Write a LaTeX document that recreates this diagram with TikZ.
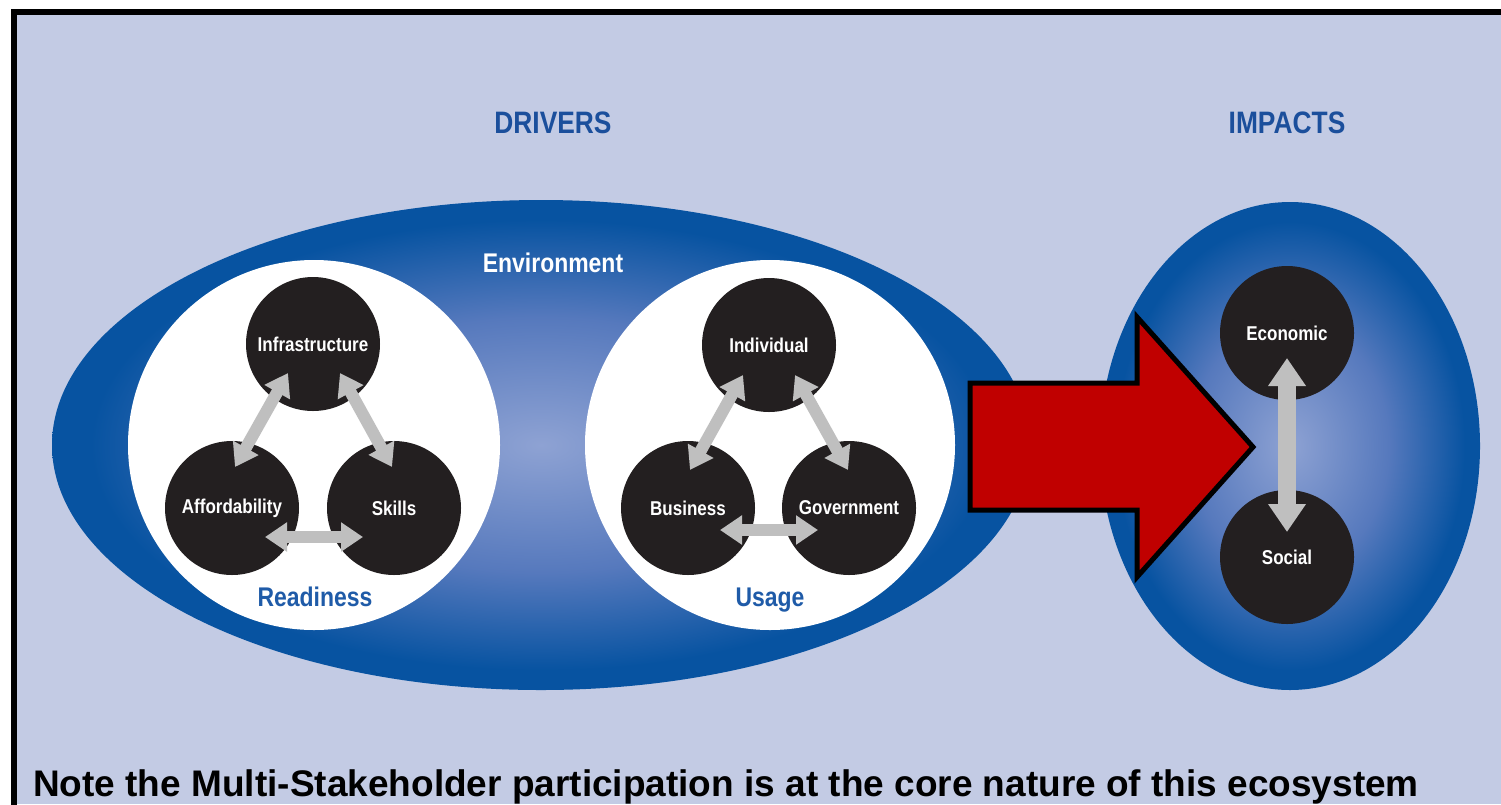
\documentclass[tikz,border=0pt]{standalone}
\usepackage{fontspec}
\usepackage{xcolor}
\usepackage{tikz}
\usetikzlibrary{arrows.meta}
\setmainfont{Liberation Sans}
\newfontfamily\condsf[FakeStretch=0.85]{Liberation Sans}

\definecolor{bgblue}{HTML}{C3CBE4}
\definecolor{envdark}{HTML}{0753A1}
\definecolor{envmid}{HTML}{5679BD}
\definecolor{envlight}{HTML}{8EA2D3}
\definecolor{titleblue}{HTML}{1B4F9C}
\definecolor{labelblue}{HTML}{1F5BA8}
\definecolor{discblack}{HTML}{231F20}
\definecolor{linkgray}{HTML}{BFBFBF}
\definecolor{pushred}{HTML}{C00000}

\pgfdeclareradialshading{ecoshade}{\pgfpoint{0bp}{0bp}}{color(0bp)=(envlight); color(13bp)=(envmid); color(23bp)=(envdark); color(25bp)=(envdark); color(50bp)=(envdark)}

\begin{document}
\begin{tikzpicture}[x=1pt,y=-1pt,
  disc/.style={circle,fill=discblack,minimum size=134pt,inner sep=0pt,
    text=white,font=\condsf\bfseries\fontsize{20}{20}\selectfont},
  title/.style={text=titleblue,anchor=base,inner sep=0pt,
    font=\condsf\bfseries\fontsize{31}{31}\selectfont},
  group/.style={text=labelblue,anchor=base,inner sep=0pt,
    font=\condsf\bfseries\fontsize{27}{27}\selectfont},
  link/.style={draw=linkgray,line width=12pt,
    {Triangle[width=28pt,length=22pt]}-{Triangle[width=28pt,length=22pt]}},
  biglink/.style={draw=linkgray,line width=18pt,
    {Triangle[width=36pt,length=28pt]}-{Triangle[width=36pt,length=28pt]}}]
% Frame and background
  \useasboundingbox (0,0) rectangle (1501,804);
  \fill[white] (0,0) rectangle (1501,804);
  \fill[bgblue] (14,12) rectangle (1501,804);
  \draw[line width=6pt,line join=miter] (14,830) -- (14,12) -- (1530,12);

  \node[title] (drivers) at (553,133) {DRIVERS};
  \node[title] (impacts) at (1287,133) {IMPACTS};

% Environment and the two groups
  \shade[shading=ecoshade] (541,445) ellipse [x radius=489pt, y radius=245pt];
  \fill[white] (314,445) ellipse [x radius=186pt, y radius=185pt];
  \fill[white] (770,445) ellipse [x radius=185pt, y radius=185pt];
  \node[group,text=white] (environment) at (553,272) {Environment};
  \node[group] (readiness) at (315,606) {Readiness};
  \node[group] (usage) at (770,606) {Usage};

  \node[disc] (infra) at (313,344) {Infrastructure};
  \node[disc] (afford) at (232,508) {Affordability};
  \node[disc] (skills) at (394,508) {Skills};
  \draw[link] ([shift={(-25,29)}]infra.center) -- ([shift={(3,-41)}]afford.center);
  \draw[link] ([shift={(27,29)}]infra.center) -- ([shift={(-2,-41)}]skills.center);
  \draw[link] ([shift={(33,29)}]afford.center) -- ([shift={(-31,29)}]skills.center);

  \node[disc] (indiv) at (769,345) {Individual};
  \node[disc] (business) at (688,508) {Business};
  \node[disc] (govt) at (849,508) {Government};
  \draw[link] ([shift={(-26,30)}]indiv.center) -- ([shift={(2,-38)}]business.center);
  \draw[link] ([shift={(26,30)}]indiv.center) -- ([shift={(-1,-38)}]govt.center);
  \draw[link] ([shift={(32,22)}]business.center) -- ([shift={(-31,22)}]govt.center);

% Impacts
  \shade[shading=ecoshade] (1290,446) ellipse [x radius=190pt, y radius=244pt];
  \node[disc] (econ) at (1287,333) {Economic};
  \node[disc] (social) at (1287,557) {Social};
  \draw[biglink] ([yshift=-25pt]econ.center) -- ([yshift=25pt]social.center);

% Red block arrow
  \filldraw[fill=pushred,line width=5pt,line join=miter]
    (970,383) -- (1137,383) -- (1137,317) -- (1253,447)
    -- (1137,577) -- (1137,510) -- (970,510) -- cycle;

  \node[anchor=base west,inner sep=0pt,font=\bfseries\fontsize{37}{37}\selectfont] (note)
    at (33,796) {Note the Multi-Stakeholder participation is at the core nature of this ecosystem};
\end{tikzpicture}
\end{document}
